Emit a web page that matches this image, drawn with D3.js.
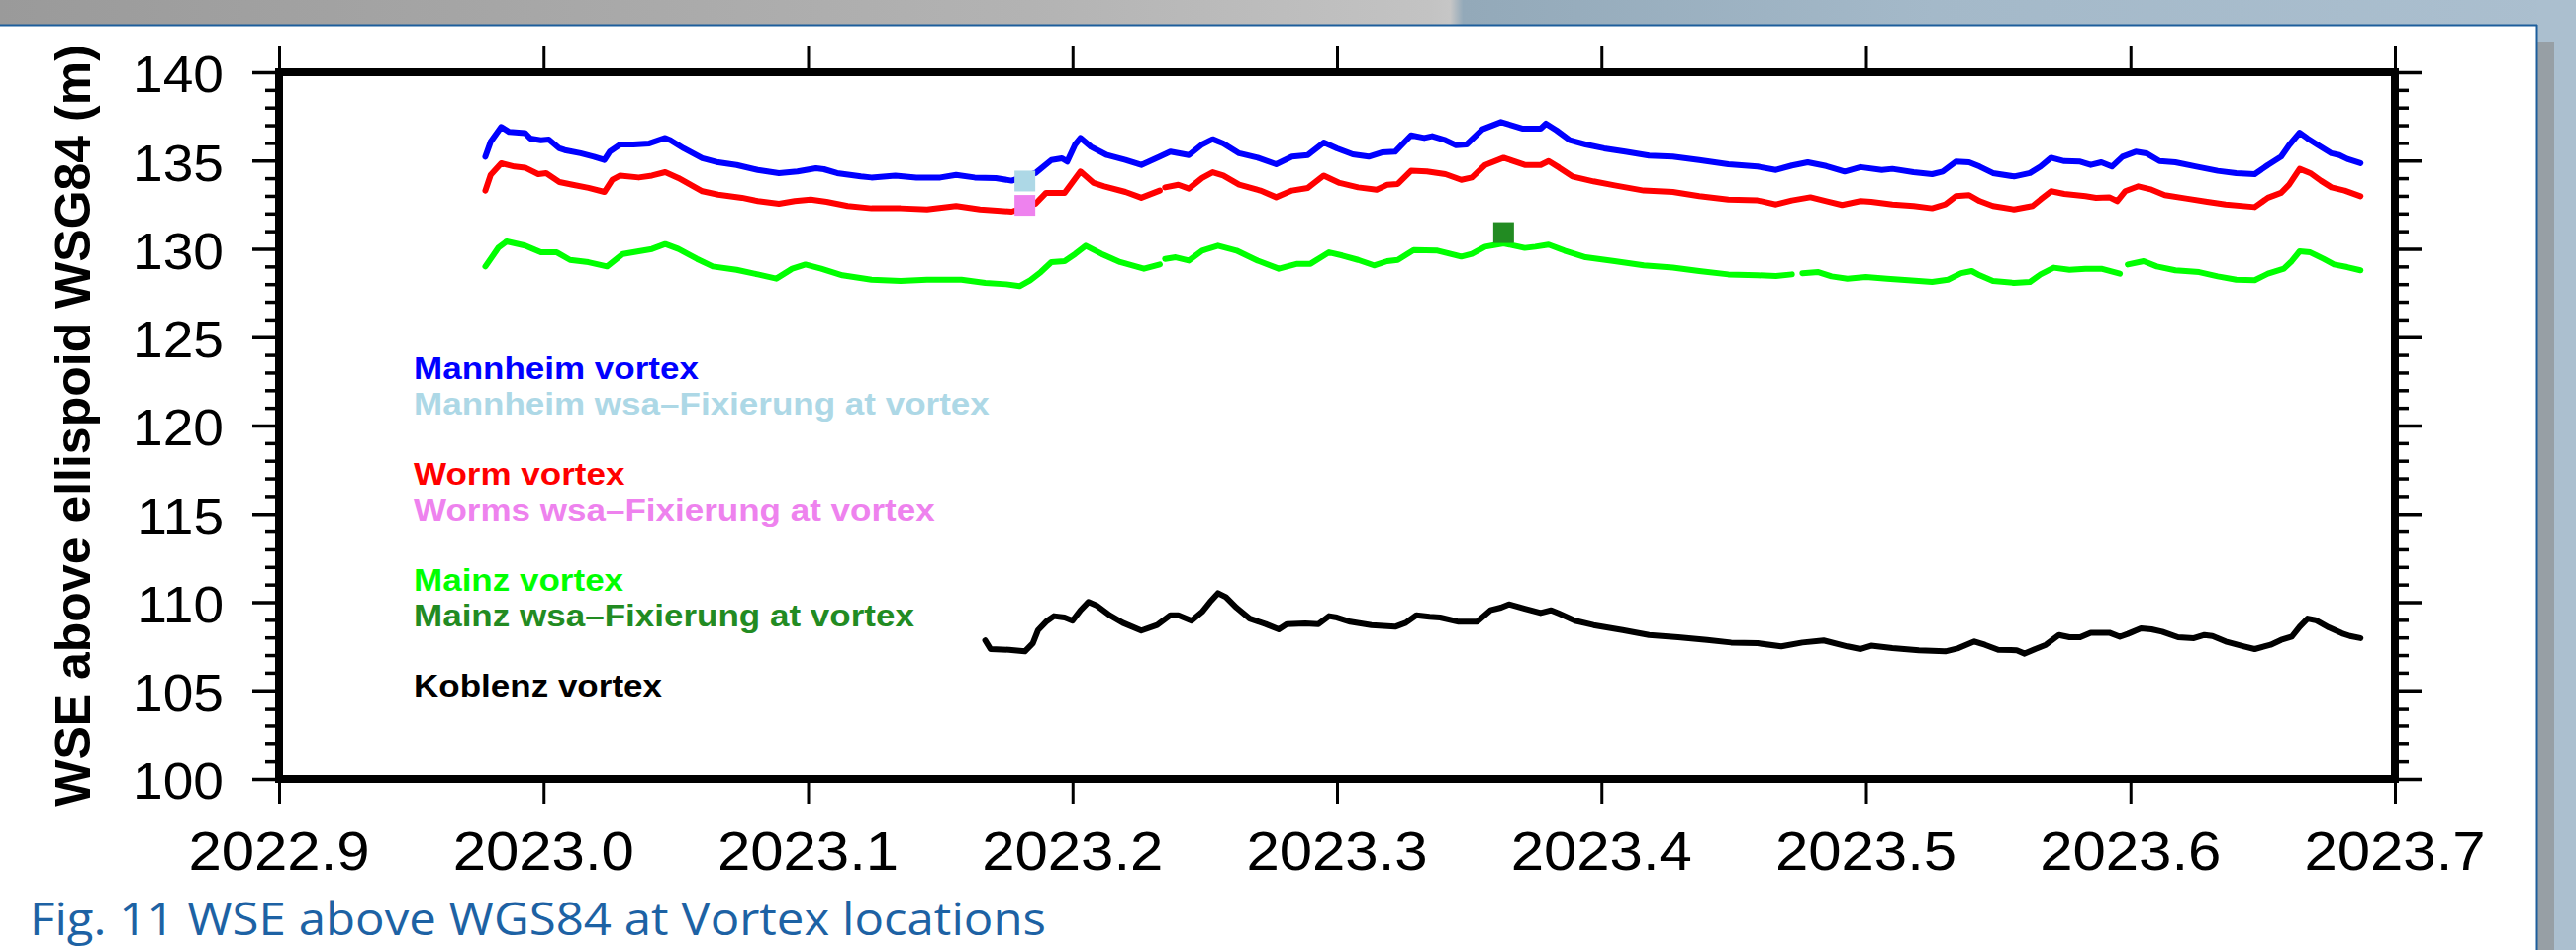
<!DOCTYPE html>
<html>
<head>
<meta charset="utf-8">
<script src="https://cdn.jsdelivr.net/npm/d3@7"></script>
<style>
  html, body { margin: 0; padding: 0; background: #fff; overflow: hidden; }
  svg { display: block; }
</style>
</head>
<body>
<svg id="chart" width="2603" height="960"></svg>
<script>
// ---- axis ticks ----
const xTickValues = [2022.9, 2023.0, 2023.1, 2023.2, 2023.3, 2023.4, 2023.5, 2023.6, 2023.7];
const yTickValues = [100, 105, 110, 115, 120, 125, 130, 135, 140];

// ---- Mannheim vortex (decimal year / WSE in m) ----
const mannheimYears = [2022.978,2022.980,2022.984,2022.987,2022.993,2022.995,2022.999,2023.002,2023.006,2023.008,2023.014,2023.019,2023.023,2023.025,2023.029,2023.034,2023.040,2023.046,2023.048,2023.053,2023.060,2023.066,2023.073,2023.081,2023.089,2023.096,2023.103,2023.106,2023.111,2023.120,2023.124,2023.133,2023.141,2023.150,2023.156,2023.163,2023.171,2023.177,2023.186,2023.192,2023.196,2023.198,2023.201,2023.203,2023.207,2023.213,2023.220,2023.226,2023.233,2023.237,2023.244,2023.249,2023.253,2023.257,2023.263,2023.270,2023.277,2023.283,2023.289,2023.295,2023.300,2023.306,2023.312,2023.317,2023.322,2023.328,2023.333,2023.336,2023.341,2023.345,2023.349,2023.355,2023.362,2023.370,2023.377,2023.379,2023.383,2023.388,2023.394,2023.401,2023.409,2023.418,2023.427,2023.437,2023.448,2023.459,2023.466,2023.472,2023.478,2023.485,2023.492,2023.498,2023.506,2023.510,2023.518,2023.525,2023.529,2023.534,2023.539,2023.543,2023.548,2023.556,2023.562,2023.566,2023.570,2023.575,2023.581,2023.585,2023.589,2023.593,2023.597,2023.602,2023.606,2023.611,2023.617,2023.625,2023.633,2023.640,2023.647,2023.652,2023.657,2023.660,2023.664,2023.667,2023.671,2023.676,2023.679,2023.682,2023.687];
const mannheimWse = [135.22,136.06,136.90,136.62,136.56,136.25,136.15,136.19,135.69,135.59,135.41,135.22,135.03,135.50,135.91,135.91,135.97,136.28,136.15,135.69,135.13,134.90,134.75,134.47,134.29,134.38,134.57,134.51,134.29,134.10,134.04,134.14,134.04,134.04,134.19,134.04,134.01,133.86,134.29,135.03,135.13,134.94,135.91,136.28,135.78,135.31,135.03,134.75,135.22,135.50,135.31,135.91,136.21,135.97,135.41,135.16,134.79,135.22,135.31,136.02,135.69,135.35,135.22,135.46,135.50,136.43,136.28,136.38,136.15,135.87,135.91,136.77,137.18,136.81,136.81,137.09,136.71,136.15,135.91,135.69,135.50,135.28,135.22,135.03,134.79,134.66,134.47,134.72,134.90,134.69,134.38,134.63,134.47,134.53,134.34,134.23,134.38,134.94,134.90,134.66,134.29,134.10,134.29,134.66,135.16,134.97,134.94,134.75,134.90,134.66,135.22,135.50,135.41,134.97,134.90,134.66,134.42,134.29,134.23,134.75,135.22,135.87,136.58,136.25,135.87,135.41,135.31,135.09,134.85];

// ---- Worms vortex (null = no data) ----
const wormsYears = [2022.978,2022.980,2022.984,2022.989,2022.993,2022.998,2023.001,2023.006,2023.011,2023.017,2023.023,2023.026,2023.029,2023.036,2023.041,2023.046,2023.051,2023.060,2023.066,2023.075,2023.081,2023.089,2023.095,2023.101,2023.107,2023.115,2023.124,2023.135,2023.145,2023.156,2023.165,2023.177,2023.186,2023.190,2023.197,2023.203,2023.208,2023.212,2023.220,2023.226,2023.233,2023.234,2023.235,2023.240,2023.244,2023.249,2023.253,2023.257,2023.263,2023.271,2023.277,2023.283,2023.289,2023.295,2023.301,2023.308,2023.315,2023.319,2023.323,2023.328,2023.334,2023.341,2023.347,2023.351,2023.356,2023.363,2023.371,2023.377,2023.380,2023.384,2023.389,2023.397,2023.405,2023.416,2023.427,2023.437,2023.448,2023.459,2023.466,2023.472,2023.479,2023.485,2023.491,2023.498,2023.502,2023.510,2023.518,2023.525,2023.530,2023.534,2023.539,2023.543,2023.548,2023.556,2023.563,2023.566,2023.570,2023.575,2023.583,2023.587,2023.592,2023.595,2023.598,2023.603,2023.608,2023.613,2023.621,2023.629,2023.636,2023.647,2023.652,2023.657,2023.660,2023.664,2023.668,2023.672,2023.676,2023.681,2023.687];
const wormsWse = [133.30,134.19,134.85,134.66,134.60,134.23,134.29,133.78,133.63,133.45,133.22,133.91,134.15,134.04,134.15,134.34,134.01,133.26,133.07,132.89,132.70,132.55,132.70,132.79,132.66,132.42,132.29,132.29,132.23,132.42,132.23,132.10,132.55,133.17,133.16,134.38,133.73,133.54,133.22,132.89,133.30,null,133.48,133.63,133.41,134.01,134.34,134.15,133.63,133.30,132.92,133.30,133.45,134.15,133.73,133.48,133.35,133.63,133.67,134.42,134.38,134.23,133.91,134.04,134.75,135.16,134.75,134.75,134.97,134.60,134.10,133.82,133.59,133.30,133.22,132.98,132.79,132.74,132.51,132.74,132.92,132.70,132.48,132.70,132.66,132.51,132.42,132.29,132.51,132.98,133.04,132.70,132.42,132.23,132.42,132.79,133.26,133.11,132.98,132.89,132.92,132.70,133.26,133.54,133.35,133.04,132.85,132.66,132.51,132.36,132.89,133.17,133.63,134.53,134.29,133.86,133.48,133.30,132.98];

// ---- Mainz vortex (null = no data) ----
const mainzYears = [2022.978,2022.983,2022.986,2022.993,2022.999,2023.005,2023.010,2023.017,2023.024,2023.030,2023.036,2023.041,2023.046,2023.051,2023.058,2023.064,2023.073,2023.081,2023.088,2023.094,2023.099,2023.105,2023.113,2023.124,2023.135,2023.145,2023.158,2023.167,2023.175,2023.180,2023.184,2023.188,2023.192,2023.197,2023.201,2023.205,2023.211,2023.218,2023.227,2023.233,2023.234,2023.235,2023.239,2023.244,2023.249,2023.255,2023.262,2023.270,2023.278,2023.285,2023.290,2023.297,2023.302,2023.308,2023.314,2023.319,2023.323,2023.329,2023.338,2023.347,2023.351,2023.356,2023.363,2023.371,2023.375,2023.380,2023.386,2023.394,2023.405,2023.416,2023.427,2023.437,2023.448,2023.459,2023.466,2023.472,2023.474,2023.476,2023.482,2023.487,2023.493,2023.500,2023.508,2023.516,2023.525,2023.531,2023.536,2023.540,2023.543,2023.548,2023.556,2023.562,2023.566,2023.571,2023.577,2023.583,2023.589,2023.596,2023.597,2023.599,2023.605,2023.610,2023.617,2023.626,2023.633,2023.640,2023.647,2023.652,2023.658,2023.661,2023.664,2023.668,2023.673,2023.677,2023.682,2023.687];
const mainzWse = [129.00,130.08,130.42,130.18,129.80,129.80,129.37,129.24,129.00,129.71,129.86,129.99,130.27,129.99,129.43,129.00,128.81,128.55,128.31,128.87,129.11,128.87,128.50,128.25,128.18,128.25,128.25,128.07,127.99,127.88,128.22,128.68,129.24,129.30,129.71,130.18,129.71,129.25,128.87,129.11,null,129.43,129.52,129.33,129.90,130.18,129.90,129.33,128.87,129.15,129.15,129.80,129.62,129.37,129.06,129.30,129.37,129.93,129.90,129.56,129.71,130.12,130.31,130.05,130.12,130.24,129.90,129.52,129.30,129.06,128.93,128.74,128.55,128.50,128.46,128.55,null,128.62,128.68,128.44,128.31,128.40,128.31,128.22,128.12,128.25,128.62,128.74,128.50,128.18,128.07,128.12,128.55,128.93,128.81,128.87,128.87,128.59,null,129.11,129.30,129.00,128.78,128.68,128.44,128.25,128.22,128.59,128.87,129.30,129.86,129.80,129.43,129.11,128.96,128.78];

// ---- Koblenz vortex ----
const koblenzYears = [2023.167,2023.169,2023.176,2023.182,2023.185,2023.187,2023.190,2023.193,2023.197,2023.200,2023.203,2023.206,2023.209,2023.214,2023.219,2023.226,2023.232,2023.237,2023.240,2023.245,2023.249,2023.252,2023.255,2023.258,2023.262,2023.267,2023.273,2023.278,2023.281,2023.288,2023.293,2023.297,2023.300,2023.305,2023.313,2023.322,2023.326,2023.330,2023.335,2023.339,2023.346,2023.353,2023.358,2023.362,2023.365,2023.371,2023.377,2023.381,2023.384,2023.390,2023.397,2023.408,2023.418,2023.429,2023.440,2023.449,2023.459,2023.468,2023.476,2023.484,2023.493,2023.498,2023.502,2023.510,2023.520,2023.530,2023.535,2023.541,2023.545,2023.550,2023.557,2023.560,2023.564,2023.568,2023.573,2023.577,2023.581,2023.585,2023.592,2023.596,2023.599,2023.604,2023.608,2023.612,2023.618,2023.624,2023.628,2023.631,2023.636,2023.643,2023.647,2023.653,2023.657,2023.661,2023.664,2023.667,2023.670,2023.675,2023.680,2023.683,2023.687];
const koblenzWse = [107.83,107.34,107.30,107.21,107.67,108.42,108.89,109.21,109.13,108.95,109.54,110.01,109.82,109.26,108.83,108.39,108.70,109.26,109.26,108.95,109.45,110.01,110.51,110.29,109.69,109.07,108.76,108.46,108.76,108.80,108.76,109.21,109.13,108.89,108.70,108.61,108.83,109.26,109.17,109.13,108.89,108.89,109.54,109.69,109.88,109.63,109.39,109.54,109.35,108.95,108.70,108.42,108.14,108.01,107.86,107.71,107.67,107.49,107.71,107.83,107.49,107.34,107.53,107.39,107.27,107.21,107.39,107.77,107.58,107.30,107.27,107.08,107.34,107.58,108.14,108.01,108.01,108.27,108.27,108.04,108.20,108.52,108.46,108.33,108.01,107.96,108.14,108.08,107.77,107.49,107.34,107.58,107.86,108.04,108.61,109.07,108.98,108.57,108.23,108.08,107.96];

// ---- wsa-Fixierung levels at the vortices ----
const fixStations = ["Mannheim", "Worms", "Mainz"];
const fixYears = [2023.182, 2023.182, 2023.363];
const fixWse = [133.84, 132.46, 130.92];

// ---- legend ----
const legendLabels = [
  "Mannheim vortex",
  "Mannheim wsa\u2013Fixierung at vortex",
  "Worm vortex",
  "Worms wsa\u2013Fixierung at vortex",
  "Mainz vortex",
  "Mainz wsa\u2013Fixierung at vortex",
  "Koblenz vortex"
];

const colors = {
  mannheim: "#0000ff", mannheimFix: "#add8e6",
  worms: "#ff0000", wormsFix: "#ee82ee",
  mainz: "#00ff00", mainzFix: "#228b22",
  koblenz: "#000000"
};
const legendColors = [colors.mannheim, colors.mannheimFix, colors.worms, colors.wormsFix,
                      colors.mainz, colors.mainzFix, colors.koblenz];
const fixColors = [colors.mannheimFix, colors.wormsFix, colors.mainzFix];

const series = [
  { years: mannheimYears, wse: mannheimWse, color: colors.mannheim },
  { years: wormsYears,    wse: wormsWse,    color: colors.worms },
  { years: mainzYears,    wse: mainzWse,    color: colors.mainz },
  { years: koblenzYears,  wse: koblenzWse,  color: colors.koblenz }
];

const W = 2603, H = 960;
const svg = d3.select("#chart");
const NUM_FONT = "'Liberation Sans', Arial, Helvetica, sans-serif";

// ---- slide frame ----
const defs = svg.append("defs");
const hdr = defs.append("linearGradient").attr("id", "hdr")
  .attr("x1", 0).attr("x2", 1).attr("y1", 0).attr("y2", 0);
[[0, "#9a9a9a"], [0.40, "#b3b3b3"], [0.555, "#c3c3c3"], [0.563, "#c6c6c6"],
 [0.568, "#93a9b9"], [0.75, "#a4b9c9"], [1, "#abbfcf"]]
  .forEach(([o, c]) => hdr.append("stop").attr("offset", o).attr("stop-color", c));

svg.append("rect").attr("width", W).attr("height", H).attr("fill", "#fff");
svg.append("rect").attr("width", W).attr("height", 25).attr("fill", "url(#hdr)");
svg.append("rect").attr("x", 2564).attr("y", 0).attr("width", W - 2564).attr("height", H).attr("fill", "#abbfcf");
svg.append("rect").attr("x", 2564).attr("y", 42).attr("width", 17).attr("height", H - 42).attr("fill", "#979fa5");
svg.append("line").attr("x1", 0).attr("x2", 2564).attr("y1", 25.5).attr("y2", 25.5)
  .attr("stroke", "#1d5e9c").attr("stroke-width", 2);
svg.append("line").attr("x1", 2563.5).attr("x2", 2563.5).attr("y1", 25).attr("y2", H)
  .attr("stroke", "#1d5e9c").attr("stroke-width", 2);

// ---- scales ----
const x = d3.scaleLinear().domain([2022.9, 2023.7]).range([282, 2420]);
const y = d3.scaleLinear().domain([100, 140]).range([787, 73]);
const [x0, x1] = x.range();
const [yb, yt] = y.range();

const yMinor = d3.range(101, 140).filter(v => v % 5 !== 0);

function tickStyle(g, w) {
  g.select(".domain").remove();
  g.selectAll(".tick line").attr("stroke", "#000").attr("stroke-width", w);
}

// x ticks (outside, top and bottom)
svg.append("g").attr("transform", `translate(0,${yb})`)
  .call(d3.axisBottom(x).tickValues(xTickValues).tickSize(25).tickFormat(""))
  .call(g => tickStyle(g, 3));
svg.append("g").attr("transform", `translate(0,${yt})`)
  .call(d3.axisTop(x).tickValues(xTickValues).tickSize(27).tickFormat(""))
  .call(g => tickStyle(g, 3));

// y ticks (major + minor, both sides)
svg.append("g").attr("transform", `translate(${x0},0)`)
  .call(d3.axisLeft(y).tickValues(yTickValues).tickSize(27).tickFormat(""))
  .call(g => tickStyle(g, 3.5));
svg.append("g").attr("transform", `translate(${x0},0)`)
  .call(d3.axisLeft(y).tickValues(yMinor).tickSize(14).tickFormat(""))
  .call(g => tickStyle(g, 3.5));
svg.append("g").attr("transform", `translate(${x1},0)`)
  .call(d3.axisRight(y).tickValues(yTickValues).tickSize(27).tickFormat(""))
  .call(g => tickStyle(g, 3.5));
svg.append("g").attr("transform", `translate(${x1},0)`)
  .call(d3.axisRight(y).tickValues(yMinor).tickSize(14).tickFormat(""))
  .call(g => tickStyle(g, 3.5));

// tick labels
svg.append("g").selectAll("text").data(xTickValues).join("text")
  .attr("transform", d => `translate(${x(d)},879) scale(1.07,1)`)
  .attr("text-anchor", "middle")
  .attr("font-family", NUM_FONT).attr("font-size", 56).attr("fill", "#000")
  .text(d => d.toFixed(1));

svg.append("g").selectAll("text").data(yTickValues).join("text")
  .attr("transform", d => `translate(${x0 - 56},${y(d) + 2}) scale(1.08,1)`)
  .attr("text-anchor", "end").attr("dy", "0.36em")
  .attr("font-family", NUM_FONT).attr("font-size", 51).attr("fill", "#000")
  .text(d => d);

// y axis title
svg.append("text")
  .attr("transform", `translate(91,${(yb + yt) / 2}) rotate(-90)`)
  .attr("text-anchor", "middle")
  .attr("font-family", NUM_FONT).attr("font-weight", "bold").attr("font-size", 50)
  .attr("fill", "#000")
  .text("WSE above ellispoid WSG84 (m)");

// ---- series lines ----
const plot = svg.append("g");
const line = d3.line()
  .defined(d => d[1] !== null)
  .x(d => x(d[0]))
  .y(d => y(d[1]));

series.forEach(s => {
  const pts = s.years.map((yr, i) => [yr, s.wse[i]]);
  plot.append("path")
    .datum(pts)
    .attr("d", line)
    .attr("fill", "none")
    .attr("stroke", s.color)
    .attr("stroke-width", 6)
    .attr("stroke-linejoin", "round")
    .attr("stroke-linecap", "round");
});

// ---- wsa-Fixierung markers ----
const sq = 21;
plot.selectAll("rect.fix").data(fixStations).join("rect")
  .attr("class", "fix")
  .attr("x", (d, i) => x(fixYears[i]) - sq / 2)
  .attr("y", (d, i) => y(fixWse[i]) - sq / 2)
  .attr("width", sq).attr("height", sq)
  .attr("fill", (d, i) => fixColors[i]);

// ---- plot frame ----
svg.append("rect")
  .attr("x", x0).attr("y", yt)
  .attr("width", x1 - x0).attr("height", yb - yt)
  .attr("fill", "none").attr("stroke", "#000").attr("stroke-width", 8);

// ---- legend ----
const legend = svg.append("g").attr("transform", "translate(418,383) scale(1.13,1)");
legend.selectAll("text").data(legendLabels).join("text")
  .attr("x", 0)
  .attr("y", (d, i) => (i + Math.floor(i / 2)) * 35.7)
  .attr("font-family", NUM_FONT).attr("font-weight", "bold").attr("font-size", 31)
  .attr("fill", (d, i) => legendColors[i])
  .text(d => d);

// ---- caption ----
svg.append("text")
  .attr("x", 30).attr("y", 945)
  .attr("font-family", "'Open Sans', 'DejaVu Sans', sans-serif")
  .attr("font-size", 45).attr("fill", "#1d62a4")
  .attr("textLength", 1027).attr("lengthAdjust", "spacingAndGlyphs")
  .text("Fig. 11 WSE above WGS84 at Vortex locations");
</script>
</body>
</html>
